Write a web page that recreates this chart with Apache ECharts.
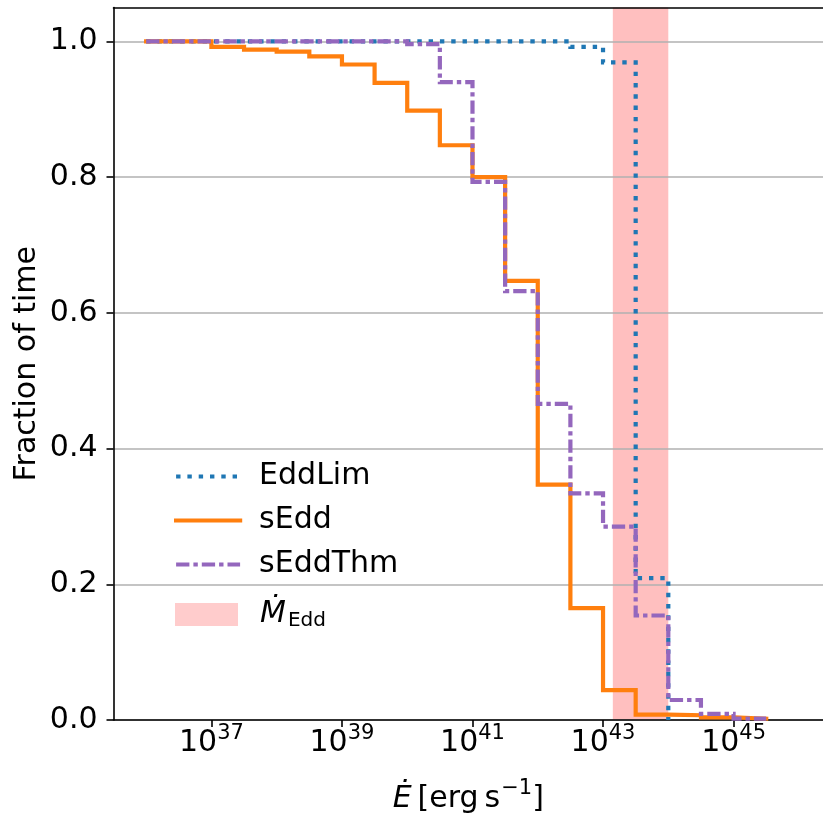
<!DOCTYPE html>
<html>
<head>
<meta charset="utf-8">
<script src="https://cdn.jsdelivr.net/npm/echarts@6/dist/echarts.min.js"></script>
<style>
html,body{margin:0;padding:0;background:#fff;}
#chart{width:823px;height:814px;}
</style>
</head>
<body>
<div id="chart"></div>
<script>
// Bin edges as log10(E / erg s^-1)
const edgeExp = [36, 36.5, 37, 37.5, 38, 38.5, 39, 39.5, 40, 40.5, 41, 41.5, 42, 42.5, 43, 43.5, 44, 44.5, 45, 45.5];
// Fraction of time per bin
const eddLim   = [1, 1, 1, 1, 1, 1, 1, 1, 1, 1, 1, 1, 1, 0.992, 0.969, 0.209, 0];
const sEdd     = [1, 1, 0.992, 0.988, 0.985, 0.978, 0.966, 0.939, 0.898, 0.847, 0.800, 0.647, 0.347, 0.165, 0.044, 0.008, 0.007, 0.004, 0.002];
const sEddThm  = [1, 1, 1, 1, 1, 1, 1, 1, 0.996, 0.940, 0.793, 0.632, 0.466, 0.334, 0.285, 0.154, 0.0295, 0.009, 0.002];
// Mdot_Edd band (log10 E)
const bandExp  = [43.15, 44.0];
// tick labels
const xTickExp = [37, 39, 41, 43, 45];
const yTicks   = [0, 0.2, 0.4, 0.6, 0.8, 1.0];

const FONT = 'DejaVu Sans';
const FS = 30;

function stepPoints(vals) {
  const pts = vals.map((v, i) => [edgeExp[i], v]);
  const last = vals[vals.length - 1];
  if (last > 0) pts.push([edgeExp[vals.length], last]);
  return pts;
}

const chart = echarts.init(document.getElementById('chart'), null, {renderer: 'canvas'});

const lineCommon = {
  type: 'line', step: 'end', symbol: 'none', showSymbol: false,
  animation: false, silent: true
};

const option = {
  backgroundColor: '#fff',
  animation: false,
  grid: {left: 113.5, top: 7.5, width: 709.5, height: 712.5, containLabel: false, outerBoundsMode: 'none'},
  xAxis: [{
    type: 'value', min: 35.5, max: 46.37, z: 1.5,
    name: '{e|Ė}{t|\u2009[erg\u2009s}{sup|−1}{t|]}',
    nameLocation: 'middle', nameGap: 64, nameMoveOverlap: false,
    nameTextStyle: {
      fontFamily: FONT, fontSize: FS, color: '#000',
      rich: {
        e: {fontFamily: FONT, fontSize: FS, fontStyle: 'italic', lineHeight: 31, color: '#000'},
        t: {fontFamily: FONT, fontSize: FS, lineHeight: 31, color: '#000'},
        sup: {fontFamily: FONT, fontSize: 21, lineHeight: 21, padding: [0, 0, 21, 1], color: '#000'}
      }
    },
    axisLine: {show: true, onZero: false, lineStyle: {color: '#000', width: 1.6}},
    axisTick: {show: true, inside: false, length: 7, lineStyle: {color: '#000', width: 1.6}, customValues: xTickExp},
    axisLabel: {
      show: true, margin: 8, customValues: xTickExp,
      fontFamily: FONT, fontSize: FS, color: '#000',
      formatter: v => '{b|10}{sup|' + Math.round(v) + '}',
      rich: {
        b: {fontFamily: FONT, fontSize: FS, lineHeight: 31, color: '#000'},
        sup: {fontFamily: FONT, fontSize: 21, lineHeight: 21, padding: [0, 0, 20, 0], color: '#000'}
      }
    },
    splitLine: {show: false}
  }, {
    type: 'value', position: 'top', min: 35.5, max: 46.37, z: 1.5,
    axisLine: {show: true, onZero: false, lineStyle: {color: '#000', width: 1.6}},
    axisTick: {show: false}, axisLabel: {show: false}, splitLine: {show: false}
  }],
  yAxis: {
    type: 'value', min: 0, max: 1.05, interval: 0.2, z: 1.5,
    name: 'Fraction of time', nameLocation: 'middle', nameGap: 71, nameMoveOverlap: false,
    nameTextStyle: {fontFamily: FONT, fontSize: FS, color: '#000'},
    axisLine: {show: true, onZero: false, lineStyle: {color: '#000', width: 1.6}},
    axisTick: {show: true, inside: false, length: 7, lineStyle: {color: '#000', width: 1.6}, customValues: yTicks},
    axisLabel: {
      show: true, margin: 16, customValues: yTicks,
      fontFamily: FONT, fontSize: FS, color: '#000',
      formatter: v => v.toFixed(1)
    },
    splitLine: {show: true, lineStyle: {color: '#b0b0b0', width: 1.5}}
  },
  legend: [{
    data: ['EddLim', 'sEdd', 'sEddThm'],
    orient: 'vertical', left: 174, top: 461, padding: 0,
    itemWidth: 64, itemHeight: 14, itemGap: 13,
    selectedMode: false,
    itemStyle: {opacity: 0},
    lineStyle: {width: 4.2},
    textStyle: {fontFamily: FONT, fontSize: FS, color: '#000', lineHeight: 31, padding: [0, 0, 0, 14]}
  }, {
    data: [{name: 'MEdd', icon: 'rect'}],
    orient: 'vertical', left: 175, top: 598.5, padding: 0,
    itemWidth: 63, itemHeight: 23,
    selectedMode: false,
    formatter: () => '{m|Ṁ}{s|Edd}',
    textStyle: {
      fontFamily: FONT, fontSize: FS, color: '#000', padding: [0, 0, 0, 17],
      rich: {
        m: {fontFamily: FONT, fontSize: FS, fontStyle: 'italic', lineHeight: 31, color: '#000'},
        s: {fontFamily: FONT, fontSize: 20, lineHeight: 20, padding: [12, 0, 0, 2], color: '#000'}
      }
    }
  }],
  series: [
    Object.assign({}, lineCommon, {
      name: 'EddLim', data: stepPoints(eddLim), z: 3,
      itemStyle: {color: '#1f77b4'},
      lineStyle: {color: '#1f77b4', width: 4.2, type: [4.4, 6.9], cap: 'butt', join: 'miter'}
    }),
    Object.assign({}, lineCommon, {
      name: 'sEdd', data: stepPoints(sEdd), z: 4,
      itemStyle: {color: '#ff7f0e'},
      lineStyle: {color: '#ff7f0e', width: 4.2, type: 'solid', cap: 'square', join: 'miter'}
    }),
    Object.assign({}, lineCommon, {
      name: 'sEddThm', data: stepPoints(sEddThm), z: 5,
      itemStyle: {color: '#9467bd'},
      lineStyle: {color: '#9467bd', width: 4.2, type: [13.3, 4, 4.4, 4], cap: 'butt', join: 'miter'}
    }),
    {
      name: 'MEdd', type: 'scatter', data: [], z: 1, silent: true,
      itemStyle: {color: '#ffbfbf'},
      markArea: {
        silent: true, z: 1,
        itemStyle: {color: 'rgba(255,0,0,0.25)', borderWidth: 0},
        data: [[{xAxis: bandExp[0]}, {xAxis: bandExp[1]}]]
      }
    }
  ]
};

chart.setOption(option);
</script>
</body>
</html>
